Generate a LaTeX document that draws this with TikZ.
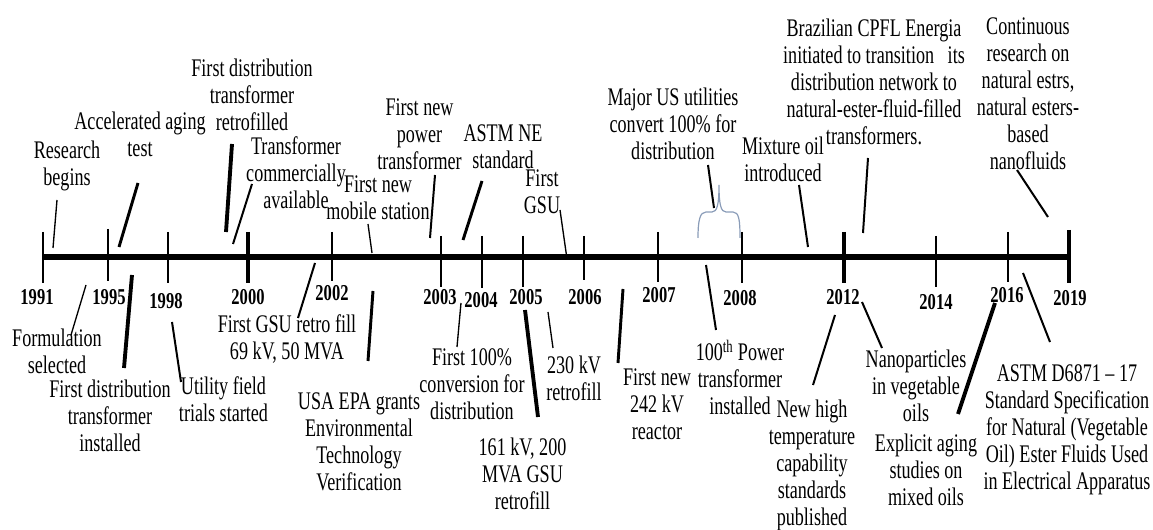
\documentclass[tikz,border=0pt]{standalone}
\usepackage{fontspec}
\setmainfont{Liberation Serif}[FakeStretch=0.715]
\newfontfamily\yrfam{Liberation Serif}[FakeStretch=0.73]
\tikzset{
  lbl/.style={align=center, inner sep=0pt, font=\fontsize{19}{20.25}\selectfont},
  yr/.style={inner sep=0pt, font=\yrfam\bfseries\fontsize{17}{18}\selectfont},
  cthin/.style={line width=1pt},
  cmed/.style={line width=1.5pt},
  cthick/.style={line width=2.2pt},
  chatch/.style={line width=2.9pt},
  tick/.style={line width=1.9pt},
  tickb/.style={line width=2.6pt},
  axis/.style={line width=4.5pt},
  bracec/.style={draw={rgb,255:red,138;green,156;blue,184}, line width=0.9pt}
}
\begin{document}
\begin{tikzpicture}[x=0.75pt,y=-0.75pt]
\useasboundingbox (0,0) rectangle (1153,530);

% axis
\coordinate (axL) at (43,257);
\coordinate (axR) at (1070,257);
\draw[axis] (axL) -- (axR);

% ticks
\foreach \x/\t/\b in {43/232/283,108/229/281,168/232/283,332/232/281,441/236/287,482/236/288,523/236/287,584/236/280,658/232/282,742/232/283,936/236/287,1008/232/282}
  \draw[tick] (\x,\t) -- (\x,\b);
\foreach \x/\t/\b in {248/232/283,844/232/283,1069/230/283}
  \draw[tickb] (\x,\t) -- (\x,\b);

% years
\node[yr] (y1991) at (37,297) {1991};
\node[yr] (y1995) at (109,297) {1995};
\node[yr] (y1998) at (166,301) {1998};
\node[yr] (y2000) at (248,297) {2000};
\node[yr] (y2002) at (332,293) {2002};
\node[yr] (y2003) at (440,297) {2003};
\node[yr] (y2004) at (481,300) {2004};
\node[yr] (y2005) at (526,297) {2005};
\node[yr] (y2006) at (585,297) {2006};
\node[yr] (y2007) at (659,295) {2007};
\node[yr] (y2008) at (740,298) {2008};
\node[yr] (y2012) at (843,297) {2012};
\node[yr] (y2014) at (936,302) {2014};
\node[yr] (y2016) at (1007,295) {2016};
\node[yr] (y2019) at (1070,298) {2019};

% top labels
\node[lbl] (r1) at (67,166) {Research\\begins};
\node[lbl] (r2) at (140,134.5) {Accelerated aging\\test};
\node[lbl] (r3) at (252,95) {First distribution\\transformer\\retrofilled};
\node[lbl] (r4) at (296,172.5) {Transformer\\commercially\\available};
\node[lbl] (r5) at (378,198) {First new\\mobile station};
\node[lbl] (r6) at (419.5,134.5) {First new\\power\\transformer};
\node[lbl] (r7) at (503,146.5) {ASTM NE\\standard};
\node[lbl] (r8) at (542,191.5) {First\\GSU};
\node[lbl] (r9) at (673,124) {Major US utilities\\convert 100\% for\\distribution};
\node[lbl] (r10) at (783,159) {Mixture oil\\introduced};
\node[lbl] (r11) at (874,82) {Brazilian CPFL Energia\\initiated to transition\ \ \ its\\distribution network to\\natural-ester-fluid-filled\\transformers.};
\node[lbl] (r12) at (1028,93.5) {Continuous\\research on\\natural estrs,\\natural esters-\\based\\nanofluids};

% bottom labels
\node[lbl] (b1) at (57,351.5) {Formulation\\selected};
\node[lbl] (b2) at (110,415.5) {First distribution\\transformer\\installed};
\node[lbl] (b3) at (223.5,399) {Utility field\\trials started};
\node[lbl] (b4) at (287,339.5) {First GSU retro fill\\69 kV, 50 MVA};
\node[lbl] (b5) at (359,442) {USA EPA grants\\Environmental\\Technology\\Verification};
\node[lbl] (b6) at (472,384.5) {First 100\%\\conversion for\\distribution};
\node[lbl] (b7) at (522.5,474) {161 kV, 200\\MVA GSU\\retrofill};
\node[lbl] (b8) at (574,378.5) {230 kV\\retrofill};
\node[lbl] (b9) at (657,404.5) {First new\\242 kV\\reactor};
\node[lbl] (b10) at (740,377.5) {100\textsuperscript{th} Power\\transformer\\installed};
\node[lbl] (b11) at (812,465) {New high\\temperature\\capability\\standards\\published};
\node[lbl] (b12) at (916,385.5) {Nanoparticles\\in vegetable\\oils};
\node[lbl] (b13) at (926,469.5) {Explicit aging\\studies on\\mixed oils};
\node[lbl] (b14) at (1067,430) {ASTM D6871 – 17\\Standard Specification\\for Natural (Vegetable\\Oil) Ester Fluids Used\\in Electrical Apparatus};

% connector end points
\coordinate (r1a) at (57,200);   \coordinate (r1b) at (53,248);
\coordinate (r2a) at (138,183);  \coordinate (r2b) at (119,247);
\coordinate (r3a) at (232,144);  \coordinate (r3b) at (226,232);
\coordinate (r4a) at (252,184);  \coordinate (r4b) at (233,244);
\coordinate (r5a) at (368,224);  \coordinate (r5b) at (372,253);
\coordinate (r6a) at (435,175);  \coordinate (r6b) at (430,238);
\coordinate (r7a) at (482,181);  \coordinate (r7b) at (463,240);
\coordinate (r8a) at (560,210);  \coordinate (r8b) at (567,259);
\coordinate (r9a) at (708,165);  \coordinate (r9b) at (714,208);
\coordinate (r10a) at (799,185); \coordinate (r10b) at (808,247);
\coordinate (r11a) at (868,158); \coordinate (r11b) at (863,233);
\coordinate (r12a) at (1017,170);\coordinate (r12b) at (1048,217);
\coordinate (b1a) at (86,285);   \coordinate (b1b) at (71,335);
\coordinate (b2a) at (132,275);  \coordinate (b2b) at (124,368);
\coordinate (b3a) at (172,322);  \coordinate (b3b) at (181,382);
\coordinate (b4a) at (315,263);  \coordinate (b4b) at (298,318);
\coordinate (b5a) at (373,291);  \coordinate (b5b) at (368,361);
\coordinate (b6a) at (461,303);  \coordinate (b6b) at (457,347);
\coordinate (b7a) at (525,310);  \coordinate (b7b) at (538,417);
\coordinate (b8a) at (548,312);  \coordinate (b8b) at (553,348);
\coordinate (b9a) at (623,289);  \coordinate (b9b) at (618,363);
\coordinate (b10a) at (706,265); \coordinate (b10b) at (716,330);
\coordinate (b11a) at (835,315); \coordinate (b11b) at (813,385);
\coordinate (b12a) at (862,302); \coordinate (b12b) at (882,348);
\coordinate (b13a) at (995,303); \coordinate (b13b) at (958,414);
\coordinate (b14a) at (1023,273);\coordinate (b14b) at (1050,342);

% connectors
\draw[cthin]  (r1a) -- (r1b);
\draw[cthick] (r2a) -- (r2b);
\draw[chatch] (r3a) -- (r3b);
\draw[cmed]   (r4a) -- (r4b);
\draw[cthin]  (r5a) -- (r5b);
\draw[cmed]   (r6a) -- (r6b);
\draw[cthick] (r7a) -- (r7b);
\draw[cthin]  (r8a) -- (r8b);
\draw[cmed]   (r9a) -- (r9b);
\draw[cmed]   (r10a) -- (r10b);
\draw[cmed]   (r11a) -- (r11b);
\draw[cmed]   (r12a) -- (r12b);
\draw[cthin]  (b1a) -- (b1b);
\draw[chatch] (b2a) -- (b2b);
\draw[cmed]   (b3a) -- (b3b);
\draw[cmed]   (b4a) -- (b4b);
\draw[cthick] (b5a) -- (b5b);
\draw[cthin]  (b6a) -- (b6b);
\draw[chatch] (b7a) -- (b7b);
\draw[cthin]  (b8a) -- (b8b);
\draw[cthick] (b9a) -- (b9b);
\draw[cmed]   (b10a) -- (b10b);
\draw[cmed]   (b11a) -- (b11b);
\draw[cmed]   (b12a) -- (b12b);
\draw[chatch] (b13a) -- (b13b);
\draw[cmed]   (b14a) -- (b14b);

% brace
\draw[bracec] (698,238) .. controls (698,220) and (700,212) .. (706,212) -- (712,212)
  .. controls (717,212) and (719,205) .. (719,185)
  .. controls (719,205) and (721,212) .. (726,212) -- (733,212)
  .. controls (739,212) and (740,220) .. (740,238);
\end{tikzpicture}
\end{document}
